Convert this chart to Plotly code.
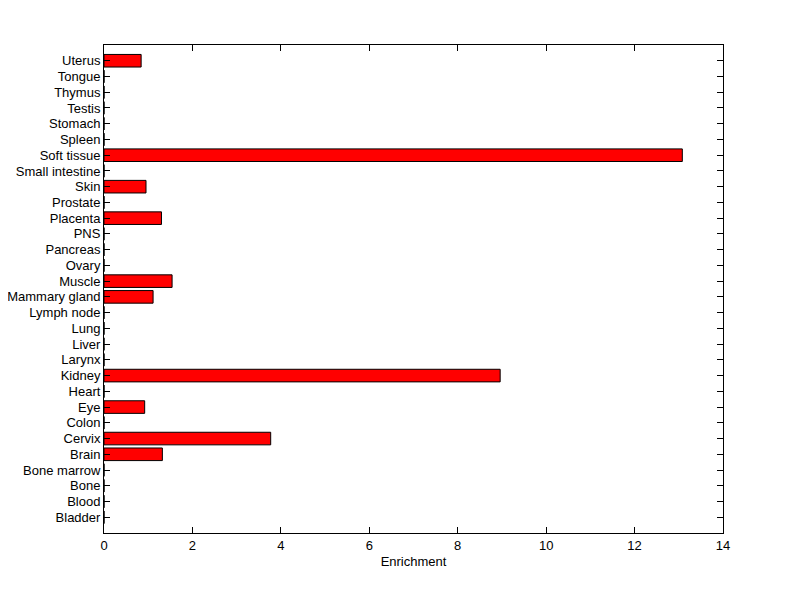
import plotly.graph_objects as go

tissues = ["Bladder", "Blood", "Bone", "Bone marrow", "Brain", "Cervix", "Colon", "Eye",
           "Heart", "Kidney", "Larynx", "Liver", "Lung", "Lymph node", "Mammary gland",
           "Muscle", "Ovary", "Pancreas", "PNS", "Placenta", "Prostate", "Skin",
           "Small intestine", "Soft tissue", "Spleen", "Stomach", "Testis", "Thymus",
           "Tongue", "Uterus"]
enrichment = [0, 0, 0, 0, 1.32, 3.77, 0, 0.92,
              0, 8.96, 0, 0, 0, 0, 1.11,
              1.54, 0, 0, 0, 1.30, 0, 0.95,
              0, 13.08, 0, 0, 0, 0,
              0, 0.84]
x_ticks = [0, 2, 4, 6, 8, 10, 12, 14]

fig = go.Figure(go.Bar(
    x=enrichment, y=tissues, orientation="h", width=0.8,
    marker=dict(color="#ff0000", line=dict(color="black", width=1)),
))

font = dict(family="Liberation Sans, Arial, sans-serif", size=13, color="black")
fig.update_layout(
    width=784, height=583,
    margin=dict(l=96, r=69, t=37, b=58, autoexpand=False),
    paper_bgcolor="white", plot_bgcolor="white",
    font=font, showlegend=False,
    xaxis=dict(range=[0, 14], tickvals=x_ticks, ticks="inside", ticklen=6,
               tickcolor="black", showline=True, linecolor="black", linewidth=1,
               mirror="ticks", showgrid=False, zeroline=False,
               title=dict(text="Enrichment", font=font, standoff=5)),
    yaxis=dict(type="category", categoryorder="array", categoryarray=tissues,
               tickmode="array", tickvals=tissues, ticktext=tissues,
               range=[-1, len(tissues)], ticks="inside", ticklen=6, tickcolor="black",
               showline=True, linecolor="black", linewidth=1, mirror="ticks",
               showgrid=False, zeroline=False, automargin=False),
)

fig.write_html("out.html")
